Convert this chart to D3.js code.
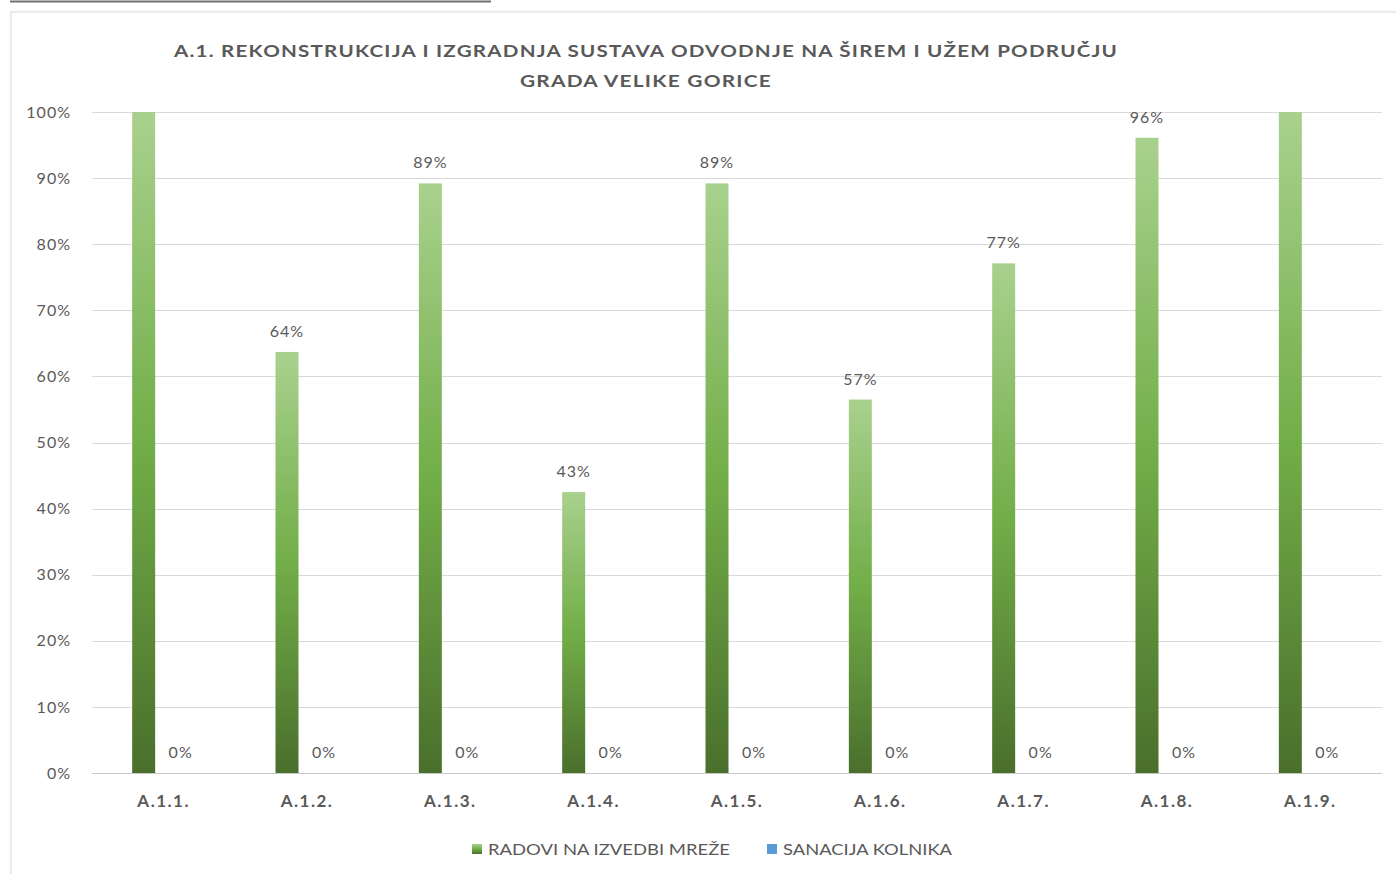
<!DOCTYPE html>
<html>
<head>
<meta charset="utf-8">
<script src="https://cdn.jsdelivr.net/npm/d3@7"></script>
<style>
  body { margin: 0; background: #fff; }
  svg text { font-family: Lato, "Open Sans", sans-serif; fill: #595959; }
</style>
</head>
<body>
<div id="chart"></div>
<script>
// data
var categories = ["A.1.1.", "A.1.2.", "A.1.3.", "A.1.4.", "A.1.5.", "A.1.6.", "A.1.7.", "A.1.8.", "A.1.9."];
var radovi = [100, 63.7, 89.2, 42.5, 89.2, 56.5, 77.1, 96.1, 100];
var sanacija = [0, 0, 0, 0, 0, 0, 0, 0, 0];
var yTicks = [0, 10, 20, 30, 40, 50, 60, 70, 80, 90, 100];
var seriesNames = ["RADOVI NA IZVEDBI MREŽE", "SANACIJA KOLNIKA"];

var svg = d3.select("#chart").append("svg")
    .attr("width", 1396)
    .attr("height", 874);

var defs = svg.append("defs");
var grad = defs.append("linearGradient").attr("id", "green")
    .attr("x1", 0).attr("y1", 0).attr("x2", 0).attr("y2", 1);
grad.append("stop").attr("offset", "0%").attr("stop-color", "#a9d18e");
grad.append("stop").attr("offset", "50%").attr("stop-color", "#72ae48");
grad.append("stop").attr("offset", "100%").attr("stop-color", "#4a6f2c");

var shadow = defs.append("filter").attr("id", "shadow")
    .attr("x", "-5%").attr("y", "-5%").attr("width", "110%").attr("height", "110%");
shadow.append("feGaussianBlur").attr("in", "SourceAlpha").attr("stdDeviation", 1.5);
shadow.append("feOffset").attr("dx", 1).attr("dy", 1).attr("result", "b");
shadow.append("feFlood").attr("flood-color", "#000").attr("flood-opacity", 0.15);
shadow.append("feComposite").attr("in2", "b").attr("operator", "in");
var m = shadow.append("feMerge");
m.append("feMergeNode");
m.append("feMergeNode").attr("in", "SourceGraphic");

// dark rule at the very top
svg.append("line")
    .attr("x1", 10).attr("x2", 491).attr("y1", 1.5).attr("y2", 1.5)
    .attr("stroke", "#707070").attr("stroke-width", 2);

// chart frame
svg.append("rect")
    .attr("x", 11).attr("y", 12).attr("width", 1400).attr("height", 880)
    .attr("fill", "#fff").attr("stroke", "#d9d9d9").attr("stroke-width", 1)
    .attr("filter", "url(#shadow)");

var x = d3.scaleBand().domain(categories).range([92, 1382]);
var y = d3.scaleLinear().domain([0, 100]).range([773, 112]);

// gridlines
svg.append("g").selectAll("line").data(yTicks).enter().append("line")
    .attr("x1", 92).attr("x2", 1382)
    .attr("y1", function(d) { return Math.round(y(d)) + 0.5; })
    .attr("y2", function(d) { return Math.round(y(d)) + 0.5; })
    .attr("stroke", function(d) { return d == 0 ? "#c8c8c8" : "#d9d9d9"; })
    .attr("stroke-width", 1);

// y labels
var yAxis = d3.axisLeft(y).tickValues(yTicks).tickFormat(function(d) { return d + "%"; })
    .tickSize(0).tickPadding(0);
var ya = svg.append("g").attr("transform", "translate(71,0)").call(yAxis);
ya.select(".domain").remove();
ya.selectAll("text").style("font-size", "16px").style("letter-spacing", "1px").attr("fill", "#595959")
    .style("font-family", "Lato, 'Open Sans', sans-serif");

// x labels
var xAxis = d3.axisBottom(x).tickSize(0).tickPadding(0);
var xa = svg.append("g").attr("transform", "translate(0,795)").call(xAxis);
xa.select(".domain").remove();
xa.selectAll("text").style("font-size", "17px").style("font-weight", "bold").style("letter-spacing", "1.5px")
    .attr("fill", "#595959").style("font-family", "Lato, 'Open Sans', sans-serif");

var barW = 23;
function cx(d) { return x(d) + x.bandwidth() / 2; }

// series 1 bars
svg.append("g").selectAll("rect").data(categories).enter().append("rect")
    .attr("x", function(d) { return cx(d) - 20 - barW / 2; })
    .attr("y", function(d, i) { return y(radovi[i]); })
    .attr("width", barW)
    .attr("height", function(d, i) { return y(0) - y(radovi[i]); })
    .attr("fill", "url(#green)");

// series 2 bars (all zero)
svg.append("g").selectAll("rect").data(categories).enter().append("rect")
    .attr("x", function(d) { return cx(d) + 18 - barW / 2; })
    .attr("y", function(d, i) { return y(sanacija[i]); })
    .attr("width", barW)
    .attr("height", function(d, i) { return y(0) - y(sanacija[i]); })
    .attr("fill", "#5b9bd5");

// data labels
svg.append("g").selectAll("text").data(categories).enter()
    .filter(function(d, i) { return radovi[i] < 100; })
    .append("text")
    .attr("x", function(d) { return cx(d) - 20; })
    .attr("y", function(d) { var i = categories.indexOf(d); return y(radovi[i]) - 15; })
    .attr("text-anchor", "middle")
    .style("font-size", "16px").style("letter-spacing", "1px")
    .text(function(d) { var i = categories.indexOf(d); return Math.round(radovi[i]) + "%"; });

svg.append("g").selectAll("text").data(categories).enter().append("text")
    .attr("x", function(d) { return cx(d) + 17; })
    .attr("y", function(d, i) { return y(sanacija[i]) - 15; })
    .attr("text-anchor", "middle")
    .style("font-size", "16px").style("letter-spacing", "1px")
    .text(function(d, i) { return sanacija[i] + "%"; });

// title
svg.append("text").attr("x", 646).attr("y", 57).attr("text-anchor", "middle")
    .style("font-size", "17px").style("font-weight", "bold").style("letter-spacing", "1px")
    .attr("textLength", 944).attr("lengthAdjust", "spacingAndGlyphs")
    .text("A.1. REKONSTRUKCIJA I IZGRADNJA SUSTAVA ODVODNJE NA ŠIREM I UŽEM PODRUČJU");
svg.append("text").attr("x", 646).attr("y", 87).attr("text-anchor", "middle")
    .style("font-size", "17px").style("font-weight", "bold").style("letter-spacing", "1px")
    .attr("textLength", 252).attr("lengthAdjust", "spacingAndGlyphs")
    .text("GRADA VELIKE GORICE");

// legend
var legX = [472, 767];
var legW = [242, 169];
var leg = svg.append("g").selectAll("g").data(seriesNames).enter().append("g")
    .attr("transform", function(d, i) { return "translate(" + legX[i] + ",844)"; });
leg.append("rect").attr("width", 10).attr("height", 10)
    .attr("fill", function(d, i) { return i == 0 ? "url(#green)" : "#5b9bd5"; });
leg.append("text").attr("x", 16).attr("y", 11)
    .style("font-size", "15px")
    .attr("textLength", function(d, i) { return legW[i]; })
    .attr("lengthAdjust", "spacingAndGlyphs")
    .text(function(d) { return d; });
</script>
</body>
</html>
